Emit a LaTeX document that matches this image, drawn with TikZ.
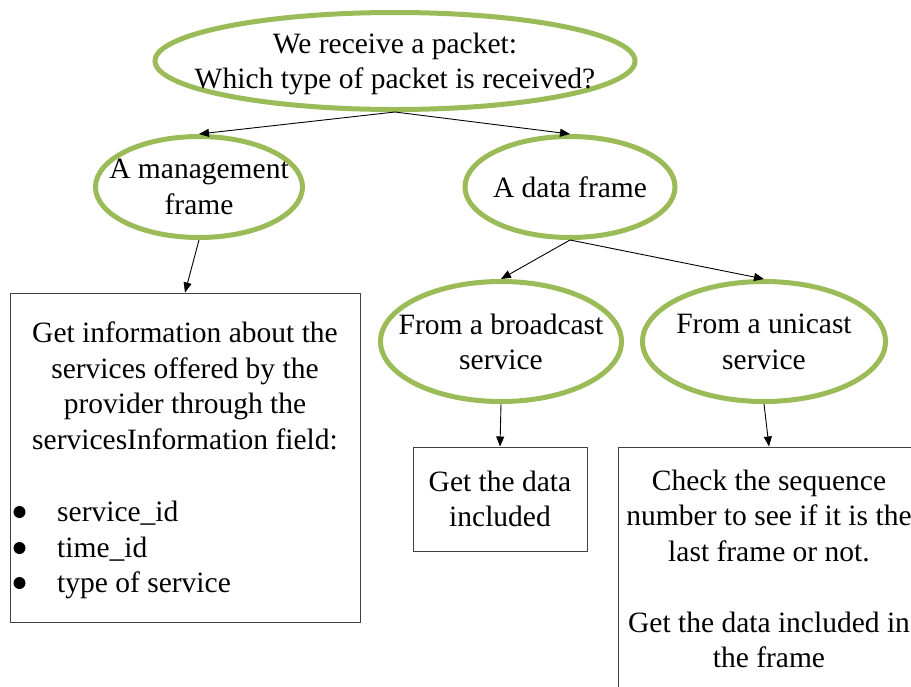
\documentclass[tikz,border=0pt]{standalone}
\usepackage{fontspec}
\setmainfont{Liberation Serif}
\usetikzlibrary{shapes.geometric,arrows.meta}
\definecolor{leafgreen}{HTML}{9BBB59}
\definecolor{boxgray}{HTML}{404040}
\begin{document}
\begin{tikzpicture}[x=1pt,y=-1pt,
  oval/.style={ellipse, draw=leafgreen, line width=5pt, inner sep=0pt},
  txt/.style={font=\fontsize{29.5}{35.5}\selectfont, align=center, inner sep=0pt},
  card/.style={rectangle, draw=boxgray, line width=1pt, inner sep=0pt},
  dot/.style={fill=black},
  link/.style={-{Triangle[length=10pt,width=8pt]}, line width=0.9pt}]
\useasboundingbox (0,0) rectangle (911,686);
\clip (0,0) rectangle (911,686);

% decision ellipses
\node[oval, minimum width=480pt, minimum height=97pt] (top) at (395,61) {};
\node[txt] (topt) at (395,64) {We receive a packet:\\Which type of packet is received?};

\node[oval, minimum width=207pt, minimum height=101pt] (mgmt) at (199,187) {};
\node[txt] (mgmtt) at (199,187) {A management\\frame};

\node[oval, minimum width=210pt, minimum height=101pt] (data) at (570,187) {};
\node[txt] (datat) at (570,187) {A data frame};

\node[oval, minimum width=241pt, minimum height=120pt] (bcast) at (501,341.5) {};
\node[txt] (bcastt) at (501,342) {From a broadcast\\service};

\node[oval, minimum width=243pt, minimum height=120pt] (ucast) at (764,341.5) {};
\node[txt] (ucastt) at (764,342) {From a unicast\\service};

% action boxes
\node[card, minimum width=350pt, minimum height=329pt] (info) at (185,457.5) {};
\node[txt] (infot) at (185,386) {Get information about the\\services offered by the\\provider through the\\servicesInformation field:};
\node[txt, align=left, anchor=west] (infol) at (57,550)
  {service\_id\\time\_id\\type of service};
\fill[dot] (19.5,512) circle (6pt);
\fill[dot] (19.5,548) circle (6pt);
\fill[dot] (19.5,583) circle (6pt);

\node[card, txt, minimum width=174pt, minimum height=104pt] (bbox) at (500,499) {Get the data\\included};

\node[card, minimum width=302pt, minimum height=253pt] (ubox) at (769,573.5) {};
\node[txt] (uboxt) at (769,569) {Check the sequence\\number to see if it is the\\last frame or not.\\[35.5pt]Get the data included in\\the frame};

% connectors
\draw[link] (top.south) -- (mgmt.north);
\draw[link] (top.south) -- (data.north);
\draw[link] (mgmt.south) -- (info.north);
\draw[link] (data.south) -- (bcast.north);
\draw[link] (data.south) -- (ucast.north);
\draw[link] (bcast.south) -- (bbox.north);
\draw[link] (ucast.south) -- (ubox.north);
\end{tikzpicture}
\end{document}
